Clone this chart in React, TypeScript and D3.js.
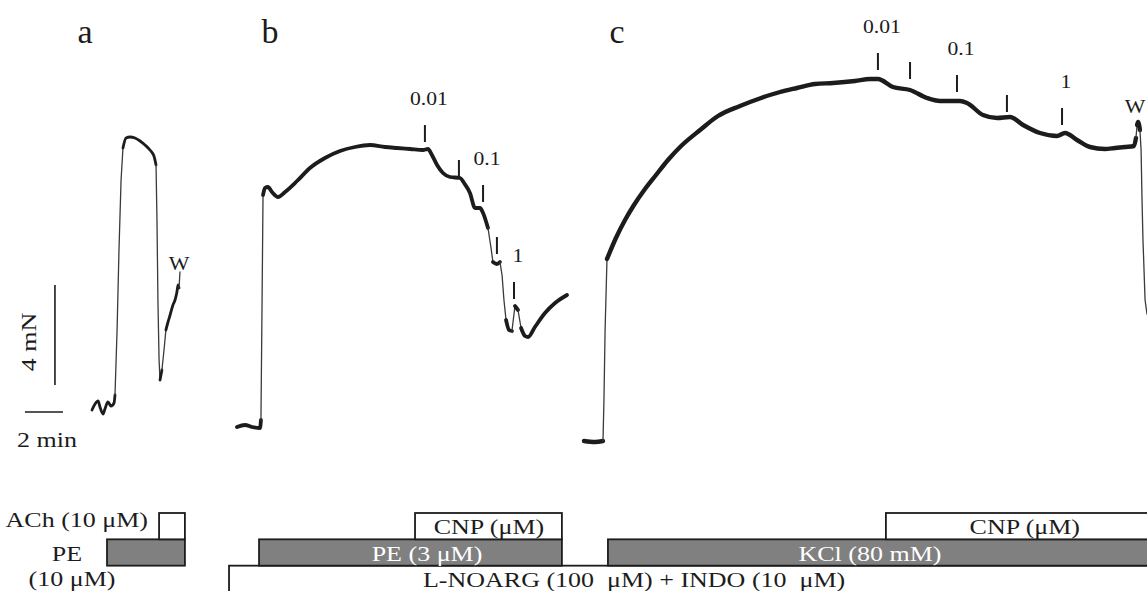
import * as d3 from 'd3'

type Pt = [number, number]

// traces: [time (min), force (mN)]
const traceA: Pt[] = [
  [0, 1.6], [0.16, 1.84], [0.32, 1.96], [0.42, 1.72], [0.58, 1.44], [0.68, 1.64], [0.84, 1.92],
  [1.0, 1.76], [1.16, 1.88], [1.21, 2.2], [1.32, 4.8], [1.42, 8.0], [1.53, 10.8], [1.63, 12.08],
  [1.79, 12.48], [2.0, 12.52], [2.26, 12.48], [2.53, 12.36], [2.79, 12.2], [3.05, 12.0],
  [3.26, 11.76], [3.37, 11.4], [3.42, 9.2], [3.47, 6.0], [3.53, 3.6], [3.58, 2.8], [3.68, 3.2],
  [3.79, 4.0], [3.89, 4.8], [4.0, 5.12], [4.11, 5.4], [4.26, 5.8], [4.37, 6.0], [4.47, 6.32],
  [4.53, 6.6], [4.58, 6.48], [4.63, 7.12],
]

const traceB: Pt[] = [
  [0, 0.92], [0.42, 1.0], [0.79, 0.92], [1.21, 0.88], [1.26, 1.2], [1.32, 6.0], [1.37, 10.2],
  [1.47, 10.48], [1.63, 10.52], [1.84, 10.32], [2.16, 10.12], [2.53, 10.32], [3.16, 10.76],
  [3.84, 11.28], [4.63, 11.68], [5.42, 11.96], [6.21, 12.12], [7.0, 12.2], [7.79, 12.12],
  [8.42, 12.08], [9.11, 12.04], [9.79, 12.0], [10.05, 12.04], [10.26, 11.8], [10.53, 11.4],
  [10.84, 11.08], [11.21, 10.92], [11.74, 10.88], [11.95, 10.68], [12.26, 10.28], [12.53, 9.68],
  [12.79, 9.68], [12.95, 9.48], [13.21, 8.88], [13.37, 8.08], [13.47, 7.52], [13.68, 7.44],
  [13.84, 7.52], [13.95, 7.0], [14.05, 6.0], [14.16, 5.2], [14.32, 4.8], [14.47, 4.76],
  [14.63, 5.76], [14.79, 5.6], [14.95, 4.88], [15.16, 4.56], [15.32, 4.52], [15.68, 4.92],
  [16.21, 5.48], [16.74, 5.88], [17.37, 6.2],
]

const traceC: Pt[] = [
  [0, 0.36], [0.58, 0.32], [1.0, 0.36], [1.05, 2.0], [1.11, 4.8], [1.21, 7.64], [1.68, 8.48],
  [2.16, 9.2], [2.63, 9.8], [3.21, 10.44], [3.79, 11.0], [4.42, 11.6], [5.11, 12.16], [6.11, 12.8],
  [7.05, 13.36], [8.21, 13.76], [9.32, 14.08], [10.32, 14.32], [11.21, 14.48], [12.16, 14.64],
  [13.11, 14.68], [14.26, 14.76], [15.05, 14.84], [15.47, 14.84], [16.26, 14.52], [17.16, 14.4],
  [18.05, 14.08], [18.74, 13.96], [19.79, 13.96], [20.16, 13.88], [21.0, 13.4], [21.74, 13.28],
  [22.42, 13.32], [23.11, 13.0], [24.0, 12.68], [24.89, 12.56], [25.32, 12.68], [25.95, 12.4],
  [26.63, 12.12], [27.42, 12.04], [27.95, 12.08], [28.47, 12.12], [28.95, 12.16], [29.05, 12.48],
  [29.11, 13.0], [29.16, 13.12], [29.26, 12.8], [29.32, 12.0], [29.37, 10.0], [29.42, 8.4],
  [29.53, 6.0], [29.63, 5.44],
]

// CNP additions: time (min), force at the top of the mark (mN), dose label (µM)
const marksBTime = [9.89, 11.68, 12.95, 13.68, 14.58]
const marksBTop = [13.0, 11.6, 10.6, 8.52, 6.72]
const marksBLabel = ['0.01', '', '0.1', '', '1']

const marksCTime = [15.47, 17.16, 19.63, 22.26, 25.16]
const marksCTop = [15.88, 15.52, 15.0, 14.2, 13.68]
const marksCLabel = ['0.01', '', '0.1', '', '1']

// washout labels: panel, time (min), force (mN)
const washPanel = ['a', 'c']
const washTime = [4.58, 29.0]
const washForce = [7.2, 13.48]

// drug application bars (time in each panel's minutes)
const barPanel = ['b', 'a', 'a', 'b', 'b', 'c', 'c']
const barRow = ['bot', 'mid', 'top', 'mid', 'top', 'mid', 'top']
const barStart = [-0.42, 0.79, 3.53, 1.16, 9.37, 1.26, 15.89]
const barEnd = [48, 4.89, 4.89, 17.1, 17.1, 30, 30]
const barGray = [false, true, false, true, false, true, false]
const barText = ['L-NOARG (100  μM) + INDO (10  μM)', '', '', 'PE (3 μM)', 'CNP (μM)', 'KCl (80 mM)', 'CNP (μM)']
const barTextTime = [20.9, 0, 0, 10.0, 13.26, 15.05, 23.2]

const panels = ['a', 'b', 'c']
const panelLetterX = [85, 270, 617]
const panelOrigin = [92, 237, 584]
const traceWidth = [2.8, 3.8, 4.4]

const W = 1147
const H = 591
const FONT = "'Liberation Serif', 'Times New Roman', serif"
const INK = '#1c1c1c'
const GRAY = '#808080'

function Txt({ x, y, size = 20, sx = 1.3, anchor = 'middle', fill = INK, rotate = 0, children }: any) {
  return (
    <text
      transform={`translate(${x},${y}) rotate(${rotate}) scale(${sx},1)`}
      fontSize={size}
      fontFamily={FONT}
      textAnchor={anchor}
      fill={fill}
      style={{ whiteSpace: 'pre' }}
    >
      {children}
    </text>
  )
}

export default function App() {
  const y = d3.scaleLinear().domain([0, 17]).range([450, 25])
  const xs: Record<string, d3.ScaleLinear<number, number>> = {}
  panels.forEach((p, i) => {
    xs[p] = d3.scaleLinear().domain([0, 30]).range([panelOrigin[i], panelOrigin[i] + 30 * 19])
  })
  const row = d3.scaleBand<string>().domain(['top', 'mid', 'bot']).range([513, 592])

  // pen record: slow parts thick and smoothed, fast jumps thin
  const runs = (data: Pt[], x: d3.ScaleLinear<number, number>, thick: number) => {
    const out: { steep: boolean; pts: Pt[] }[] = []
    d3.pairs(data).forEach(([a, b]) => {
      const dx = Math.abs(x(b[0]) - x(a[0]))
      const dy = Math.abs(y(b[1]) - y(a[1]))
      const steep = dy > 4 * dx && dy > 12
      const last = out[out.length - 1]
      if (last && last.steep === steep) last.pts.push(b)
      else out.push({ steep, pts: [a, b] })
    })
    return out.map((r, i) => {
      const line = d3.line<Pt>()
        .x(d => x(d[0]))
        .y(d => y(d[1]))
        .curve(r.steep ? d3.curveLinear : d3.curveMonotoneX)
      return (
        <path key={i} d={line(r.pts) ?? ''} fill="none"
          stroke={r.steep ? '#3a3a3a' : INK}
          strokeWidth={r.steep ? 1.3 : thick}
          strokeLinecap="round" strokeLinejoin="round" />
      )
    })
  }

  const marks = (x: d3.ScaleLinear<number, number>, times: number[], tops: number[], labels: string[]) =>
    times.map((t, i) => (
      <g key={i}>
        <line x1={x(t)} x2={x(t)} y1={y(tops[i])} y2={y(tops[i] - 0.68)} stroke={INK} strokeWidth={2} />
        {labels[i] && (
          <Txt x={x(t) + 4} y={y(tops[i]) - 20} size={19} sx={1.14}>{labels[i]}</Txt>
        )}
      </g>
    ))

  const xa = xs['a']
  const traces = [traceA, traceB, traceC]

  return (
    <svg width={W} height={H} style={{ position: 'absolute', left: 0, top: 0, background: '#fff' }}>
      <rect width={W} height={H} fill="#fff" />

      {panels.map((p, i) => (
        <Txt key={p} x={panelLetterX[i]} y={43} size={34} sx={1}>{p}</Txt>
      ))}

      {/* scale bars */}
      <line x1={xa(-1.95)} x2={xa(-1.95)} y1={y(2.6)} y2={y(6.6)} stroke={INK} strokeWidth={1.6} />
      <Txt x={36} y={y(4.6) + 7} rotate={-90}>4 mN</Txt>
      <line x1={xa(-3.53)} x2={xa(-1.53)} y1={y(1.52)} y2={y(1.52)} stroke={INK} strokeWidth={1.6} />
      <Txt x={47} y={447}>2 min</Txt>

      {/* traces */}
      {panels.map((p, i) => (
        <g key={p}>{runs(traces[i], xs[p], traceWidth[i])}</g>
      ))}

      {marks(xs['b'], marksBTime, marksBTop, marksBLabel)}
      {marks(xs['c'], marksCTime, marksCTop, marksCLabel)}

      {washPanel.map((p, i) => (
        <Txt key={p} x={xs[p](washTime[i])} y={y(washForce[i])} size={19} sx={1.15}>W</Txt>
      ))}

      {/* drug application bars */}
      {barPanel.map((p, i) => {
        const x = xs[p]
        const x0 = x(barStart[i])
        const x1 = Math.min(x(barEnd[i]), W + 5)
        return (
          <rect key={i} x={x0} y={row(barRow[i])!} width={x1 - x0} height={row.bandwidth()}
            fill={barGray[i] ? GRAY : '#fff'} stroke={INK} strokeWidth={1.8} />
        )
      })}
      {barPanel.map((p, i) =>
        barText[i] ? (
          <Txt key={i} x={xs[p](barTextTime[i])} y={row(barRow[i])! + row.bandwidth() - 5}
            fill={barGray[i] ? '#fff' : INK}>{barText[i]}</Txt>
        ) : null
      )}

      <Txt x={148} y={527} anchor="end">ACh (10 μM)</Txt>
      <Txt x={67} y={561}>PE</Txt>
      <Txt x={72} y={586}>(10 μM)</Txt>
    </svg>
  )
}
